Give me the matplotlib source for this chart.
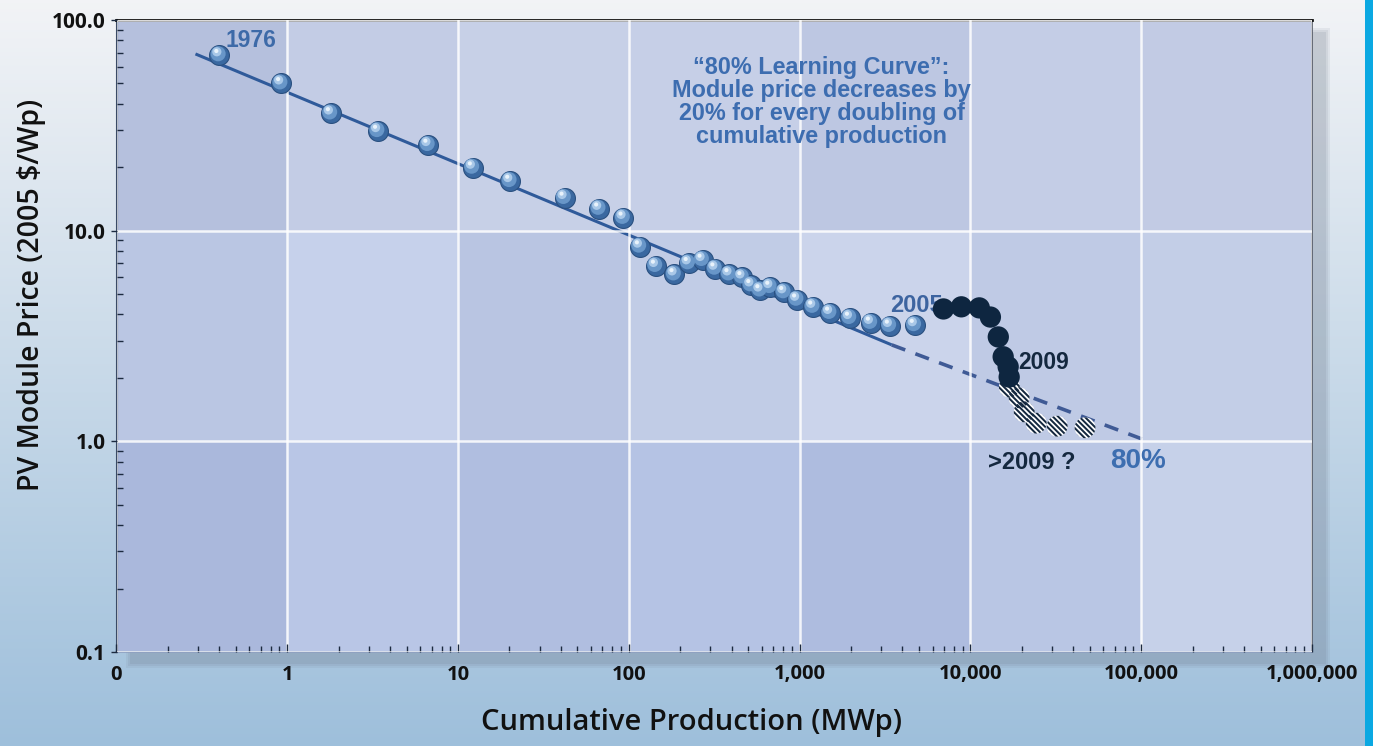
import numpy as np
import matplotlib
matplotlib.use("Agg")
import matplotlib.pyplot as plt
from matplotlib.transforms import ScaledTranslation
from matplotlib.patches import Rectangle
from matplotlib.path import Path

# ---------------- data ----------------
hist_x = [0.40, 0.92, 1.8, 3.4, 6.7, 12.2, 20.2, 42, 67, 93, 116, 144, 185, 224, 270,
          321, 388, 462, 521, 589, 673, 812, 966, 1200, 1507, 1970, 2612, 3373, 4720]
hist_y = [68, 50, 36, 29.7, 25.5, 19.9, 17.2, 14.3, 12.7, 11.5, 8.4, 6.8, 6.2, 7.0, 7.26,
          6.6, 6.2, 6.0, 5.5, 5.2, 5.4, 5.1, 4.7, 4.35, 4.07, 3.85, 3.65, 3.53, 3.56]
recent_x = [6950, 8850, 11270, 13090, 14560, 15550, 16630, 16860]
recent_y = [4.25, 4.35, 4.3, 3.89, 3.13, 2.52, 2.26, 2.02]
future_x = [16900, 19280, 20650, 24270, 32200, 46900]
future_y = [1.81, 1.61, 1.38, 1.22, 1.18, 1.16]
fit_x = [0.29, 3460]
fit_y = [69, 2.87]
proj_x = [3460, 110000]
proj_y = [2.87, 1.0]
xticks = [0.1, 1, 10, 100, 1000, 10000, 100000, 1000000]
xticklabels = ["0", "1", "10", "100", "1,000", "10,000", "100,000", "1,000,000"]
yticks = [0.1, 1, 10, 100]
yticklabels = ["0.1", "1.0", "10.0", "100.0"]

W, H = 1373, 746
fig = plt.figure(figsize=(W / 100, H / 100), dpi=100)

# background gradient
bg = fig.add_axes([0, 0, 1, 1], zorder=-10)
grad = np.linspace(0, 1, 256)[:, None]
c_top = np.array([0.95, 0.955, 0.965])
c_bot = np.array([0.62, 0.75, 0.86])
img = c_top[None, None, :] * (1 - grad[..., None]) + c_bot[None, None, :] * grad[..., None]
img = np.repeat(img, 4, axis=1)
bg.imshow(img, aspect="auto", extent=[0, 1, 0, 1], origin="upper")
bg.set_xlim(0, 1); bg.set_ylim(0, 1)
bg.axis("off")
# soft drop shadow of plot panel
for k, a in enumerate([0.10, 0.12, 0.14]):
    bg.add_patch(Rectangle(((126 + 2 * k) / W, 1 - (668 - 2 * k) / H), (1330 - 126 - 4 * k) / W,
                           (668 - 28 - 4 * k) / H, facecolor="#6f7a8c", alpha=a, edgecolor="none"))
# cyan bar at right
bg.add_patch(Rectangle((1365 / W, 0), 8 / W, 1, facecolor="#0aa8e2", edgecolor="none"))

left, right, top, bottom = 116.5 / W, 1312 / W, 1 - 20 / H, 1 - 652 / H
ax = fig.add_axes([left, bottom, right - left, top - bottom])
ax.set_xscale("log"); ax.set_yscale("log")
ax.set_xlim(0.1, 1e6); ax.set_ylim(0.1, 100)

# panel cell shading (rows bottom -> top)
cell_colors = [
    ["#aab8dc", "#b9c6e6", "#b0bee0", "#b5c3e4", "#aebcdf", "#b9c6e4", "#c6d1e9"],
    ["#bac6e3", "#c6d1eb", "#b9c5e2", "#c1cce6", "#cbd4eb", "#bfcae5", "#c3cee7"],
    ["#b5c0dd", "#c3cce5", "#c7d0e7", "#c6cfe7", "#bdc7e2", "#c4cde6", "#c2cbe4"],
]
xe = np.logspace(-1, 6, 8)
ye = np.logspace(-1, 2, 4)
for r, row in enumerate(cell_colors):
    for c, col in enumerate(row):
        ax.add_patch(Rectangle((xe[c], ye[r]), xe[c + 1] - xe[c], ye[r + 1] - ye[r],
                               facecolor=col, edgecolor="none", zorder=0))

ax.grid(True, which="major", color="white", linewidth=1.8, alpha=0.85, zorder=1)
ax.set_axisbelow(False)

# fit line and projection
ax.plot(fit_x, fit_y, color="#2f5a9a", linewidth=2.2, zorder=2, solid_capstyle="butt")
ax.plot(proj_x, proj_y, color="#3f5a95", linewidth=2.6, linestyle=(0, (4, 3)), zorder=2)

# spheres
def off(dx, dy):
    return ax.transData + ScaledTranslation(dx / 100, dy / 100, fig.dpi_scale_trans)

ax.scatter(hist_x, hist_y, s=205, color="#3a68a0", edgecolor="#2a5080", linewidth=0.8, zorder=3)
ax.scatter(hist_x, hist_y, s=118, color="#6896c8", edgecolor="none", zorder=4, transform=off(-1.2, 1.5))
ax.scatter(hist_x, hist_y, s=44, color="#a9c8e8", edgecolor="none", zorder=5, transform=off(-2.5, 3.5))
ax.scatter(hist_x, hist_y, s=9, color="#e8f2fb", edgecolor="none", zorder=6, transform=off(-3, 4.3))

# striped marker (diagonal bands clipped to a circle)
def stripe_marker(period=0.36, width=0.19):
    u = np.array([1.0, 1.0]) / np.sqrt(2)
    v = np.array([-1.0, 1.0]) / np.sqrt(2)
    paths = []
    for c in np.arange(-3, 4) * period:
        a, b = max(c - width / 2, -0.999), min(c + width / 2, 0.999)
        if a >= b:
            continue
        t = np.linspace(a, b, 12)
        s = np.sqrt(1 - t ** 2)
        pts_t = np.concatenate([t, t[::-1]])
        pts_s = np.concatenate([s, -s[::-1]])
        xy = pts_t[:, None] * u + pts_s[:, None] * v
        xy = np.vstack([xy, xy[:1]])
        codes = [Path.MOVETO] + [Path.LINETO] * (len(xy) - 2) + [Path.CLOSEPOLY]
        paths.append(Path(xy, codes))
    # anchor points fixing the marker's normalisation to the unit circle
    paths.append(Path([[1, 0], [1, 0]], [Path.MOVETO, Path.LINETO]))
    paths.append(Path([[-1, 0], [-1, 0]], [Path.MOVETO, Path.LINETO]))
    return Path.make_compound_path(*paths)

stripes = stripe_marker()
ax.scatter(future_x, future_y, s=225, facecolor="white", edgecolor="none", zorder=7)
ax.scatter(future_x, future_y, s=225, marker=stripes, color="#14283f", edgecolor="none", zorder=7)
# recent dark points
ax.scatter(recent_x, recent_y, s=235, color="#0e2640", edgecolor="none", zorder=8)

# labels
bold = dict(fontfamily="Liberation Sans", fontweight="bold")
ax.annotate("1976", (hist_x[0], hist_y[0]), xytext=(6, 15), textcoords="offset pixels",
            ha="left", va="center", color="#3d6aa8", fontsize=16.5, zorder=9, **bold)
ax.annotate("2005", (hist_x[-1], hist_y[-1]), xytext=(2, 20), textcoords="offset pixels",
            ha="center", va="center", color="#3d64a0", fontsize=17, zorder=7, **bold)
ax.annotate("2009", (recent_x[-1], recent_y[-1]), xytext=(9, 15), textcoords="offset pixels",
            ha="left", va="center", color="#14283f", fontsize=16.5, zorder=9, **bold)
ax.annotate(">2009 ?", (future_x[3], future_y[3]), xytext=(-4, -39), textcoords="offset pixels",
            ha="center", va="center", color="#14283f", fontsize=17, zorder=9, **bold)
ax.annotate("80%", (proj_x[-1], proj_y[-1]), xytext=(-10, -20), textcoords="offset pixels",
            ha="center", va="center", color="#3d6eb0", fontsize=20, zorder=9, **bold)
ax.text(0.5897, 0.943, "\u201c80% Learning Curve\u201d:\nModule price decreases by\n20% for every doubling of\ncumulative production",
        transform=ax.transAxes, ha="center", va="top", color="#3d6db0", fontsize=16.8,
        linespacing=1.0, zorder=9, **bold)

# axes styling
ax.set_xticks(xticks, xticklabels)
ax.set_yticks(yticks, yticklabels)
ax.tick_params(axis="x", which="major", direction="in", length=6, width=1, color="#1c2a40",
               pad=9, labelsize=14.5)
ax.tick_params(axis="x", which="minor", direction="in", length=4, width=1, color="#1c2a40")
ax.tick_params(axis="y", which="major", direction="out", length=4, width=1, color="#1c2a40",
               pad=4, labelsize=15)
ax.tick_params(axis="y", which="minor", direction="in", length=4, width=1, color="#1c2a40")
for lab in ax.get_xticklabels() + ax.get_yticklabels():
    lab.set_fontfamily("Open Sans")
    lab.set_fontweight("bold")
    lab.set_color("#111111")
ax.spines["top"].set_color("#111111"); ax.spines["top"].set_linewidth(2)
ax.spines["left"].set_color("#3a4a66"); ax.spines["left"].set_linewidth(1.5)
ax.spines["right"].set_color("#555a66"); ax.spines["right"].set_linewidth(1.2)
ax.spines["bottom"].set_color("#8fa0c0"); ax.spines["bottom"].set_linewidth(1.2)

ax.set_xlabel("Cumulative Production (MWp)", fontfamily="Open Sans", fontweight="semibold",
              fontsize=21, color="#111111")
ax.set_ylabel("PV Module Price (2005 $/Wp)", fontfamily="Open Sans", fontweight="semibold",
              fontsize=20.5, color="#111111")
ax.xaxis.set_label_coords(0.481, -0.089)
ax.yaxis.set_label_coords(-0.059, 0.565)

fig.savefig("out.png", dpi=100)
